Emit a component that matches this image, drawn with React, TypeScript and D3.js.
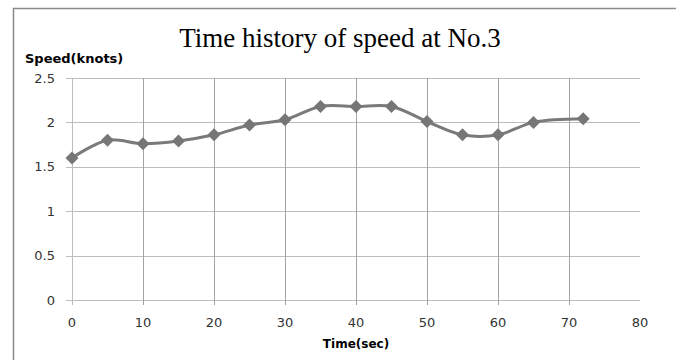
import React, { useEffect, useRef } from 'react'
import * as d3 from 'd3'

const times = [0, 5, 10, 15, 20, 25, 30, 35, 40, 45, 50, 55, 60, 65, 72]
const speeds = [1.6, 1.8, 1.76, 1.79, 1.86, 1.97, 2.03, 2.18, 2.18, 2.18, 2.01, 1.86, 1.86, 2.0, 2.04]
const xTicks = [0, 10, 20, 30, 40, 50, 60, 70, 80]
const yTicks = [0, 0.5, 1, 1.5, 2, 2.5]

const W = 676
const H = 360
const margin = { left: 72, right: 36, top: 78, bottom: 60 }

const sans = 'DejaVu Sans, Verdana, sans-serif'

export default function App () {
  const ref = useRef<SVGSVGElement>(null)

  useEffect(() => {
    const svg = d3.select(ref.current)
    svg.selectAll('*').remove()

    const x = d3.scaleLinear().domain([0, 80]).range([margin.left, W - margin.right])
    const y = d3.scaleLinear().domain([0, 2.5]).range([H - margin.bottom, margin.top])

    // outer chart border (only top and left are in frame)
    svg.append('path')
      .attr('d', `M13.5,${H}V8.5H${W}`)
      .attr('fill', 'none')
      .attr('stroke', '#8a8a8a')
      .attr('stroke-width', 1.5)

    // gridlines
    svg.append('g').selectAll('line').data(yTicks).join('line')
      .attr('x1', x(0) - 6).attr('x2', x(80))
      .attr('y1', d => Math.round(y(d)) + 0.5).attr('y2', d => Math.round(y(d)) + 0.5)
      .attr('stroke', '#bdbdbd')
    svg.append('g').selectAll('line').data(xTicks.slice(0, -1)).join('line')
      .attr('x1', d => Math.round(x(d)) + 0.5).attr('x2', d => Math.round(x(d)) + 0.5)
      .attr('y1', y(2.5)).attr('y2', y(0) + 5)
      .attr('stroke', d => (d === 0 ? '#bdbdbd' : '#a3a3a3'))

    // tick labels
    svg.append('g').selectAll('text').data(yTicks).join('text')
      .attr('x', 55).attr('y', d => y(d) + 4.5)
      .attr('text-anchor', 'end')
      .attr('font-family', sans).attr('font-size', 13).attr('fill', '#333')
      .text(d => String(d))
    svg.append('g').selectAll('text').data(xTicks).join('text')
      .attr('x', d => x(d)).attr('y', 327)
      .attr('text-anchor', 'middle')
      .attr('font-family', sans).attr('font-size', 13).attr('fill', '#333')
      .text(d => String(d))

    // series
    const pts = times.map((t, i) => [t, speeds[i]] as [number, number])
    const line = d3.line<[number, number]>()
      .x(d => x(d[0]))
      .y(d => y(d[1]))
      .curve(d3.curveCatmullRom.alpha(0.5))
    svg.append('path')
      .datum(pts)
      .attr('d', line)
      .attr('fill', 'none')
      .attr('stroke', '#7a7a7a')
      .attr('stroke-width', 3)

    svg.append('g').selectAll('path').data(pts).join('path')
      .attr('d', d3.symbol(d3.symbolSquare, 84)())
      .attr('transform', d => `translate(${x(d[0])},${y(d[1])}) rotate(45)`)
      .attr('fill', '#767676')

    // titles
    svg.append('text')
      .attr('x', 340).attr('y', 47)
      .attr('text-anchor', 'middle')
      .attr('font-family', 'Liberation Serif, Times New Roman, serif')
      .attr('font-size', 27)
      .text('Time history of speed at No.3')
    svg.append('text')
      .attr('x', 25).attr('y', 63)
      .attr('font-family', sans).attr('font-weight', 'bold').attr('font-size', 13)
      .text('Speed(knots)')
    svg.append('text')
      .attr('x', x(40)).attr('y', 348)
      .attr('text-anchor', 'middle')
      .attr('font-family', sans).attr('font-weight', 'bold').attr('font-size', 12)
      .text('Time(sec)')
  }, [])

  return (
    <svg
      ref={ref}
      width={W}
      height={H}
      viewBox={`0 0 ${W} ${H}`}
      style={{ position: 'absolute', left: 0, top: 0, background: '#fff' }}
    />
  )
}
